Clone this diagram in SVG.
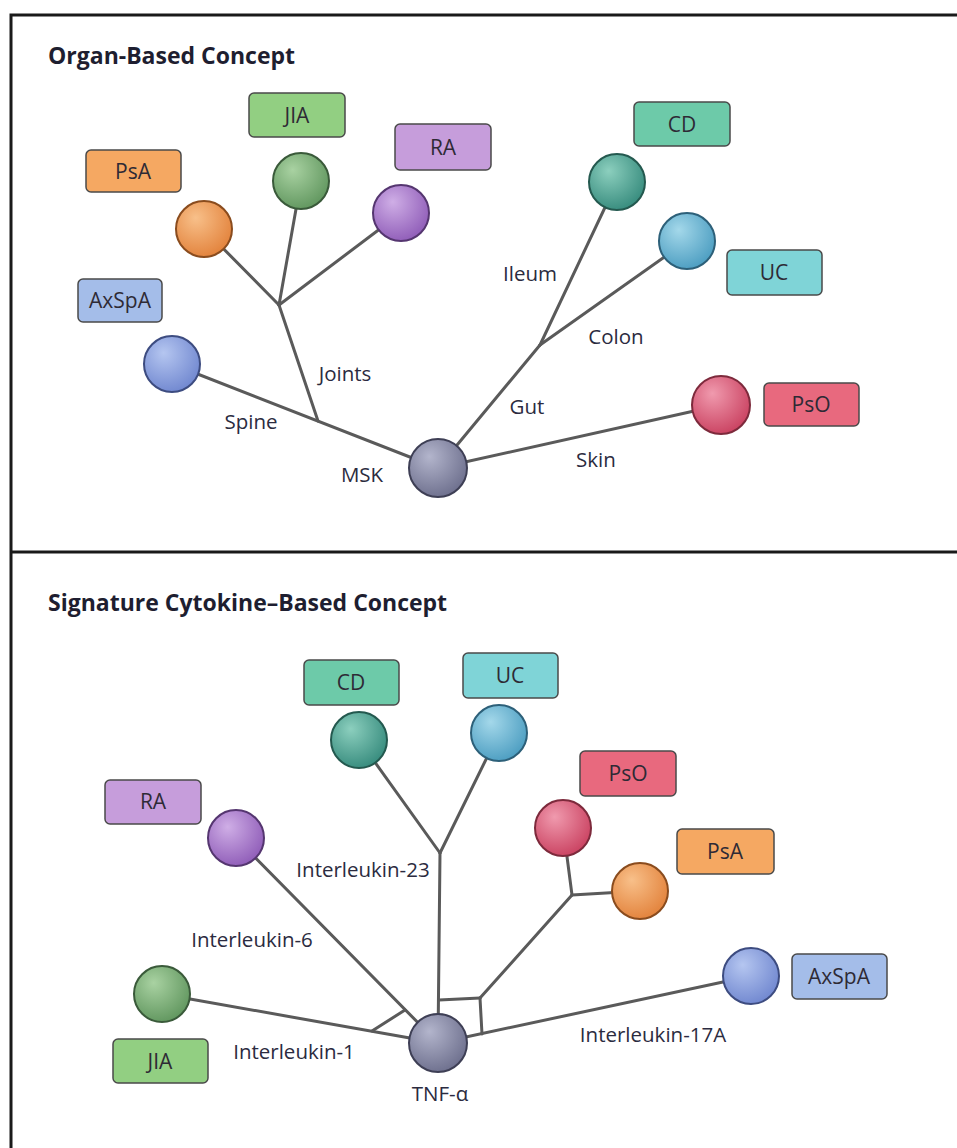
<svg xmlns="http://www.w3.org/2000/svg" width="957" height="1148" viewBox="0 0 957 1148">
<style>
.frame{stroke:#1a1a1a;stroke-width:3;fill:none}
.title{font-family:"Open Sans","Liberation Sans",sans-serif;font-weight:700;font-size:23px;fill:#1e1e30}
.lbl{font-family:"Open Sans","Liberation Sans",sans-serif;font-size:20.5px;fill:#2b2b40;text-anchor:middle}
.btxt{font-family:"Open Sans","Liberation Sans",sans-serif;font-size:21px;fill:#2e2a35;text-anchor:middle}
.box{stroke:#4a4a4a;stroke-width:1.5}
.edge{stroke:#5a5a5a;stroke-width:3;fill:none;stroke-linecap:round}
.ball{stroke-width:2}
</style>
<defs>
<radialGradient id="gBlue" cx="0.4" cy="0.35" r="0.7" fx="0.35" fy="0.3"><stop offset="0" stop-color="#b5c6f0"/><stop offset="1" stop-color="#6f86cf"/></radialGradient>
<radialGradient id="gOrange" cx="0.4" cy="0.35" r="0.7" fx="0.35" fy="0.3"><stop offset="0" stop-color="#f8c08a"/><stop offset="1" stop-color="#e2813a"/></radialGradient>
<radialGradient id="gGreen" cx="0.4" cy="0.35" r="0.7" fx="0.35" fy="0.3"><stop offset="0" stop-color="#a9d2a2"/><stop offset="1" stop-color="#5f955d"/></radialGradient>
<radialGradient id="gPurple" cx="0.4" cy="0.35" r="0.7" fx="0.35" fy="0.3"><stop offset="0" stop-color="#cfaee6"/><stop offset="1" stop-color="#8e5bb7"/></radialGradient>
<radialGradient id="gTeal" cx="0.4" cy="0.35" r="0.7" fx="0.35" fy="0.3"><stop offset="0" stop-color="#8ccfbe"/><stop offset="1" stop-color="#358a7c"/></radialGradient>
<radialGradient id="gCyan" cx="0.4" cy="0.35" r="0.7" fx="0.35" fy="0.3"><stop offset="0" stop-color="#a4d8ea"/><stop offset="1" stop-color="#4a9cc0"/></radialGradient>
<radialGradient id="gRed" cx="0.4" cy="0.35" r="0.7" fx="0.35" fy="0.3"><stop offset="0" stop-color="#f09aae"/><stop offset="1" stop-color="#c9405f"/></radialGradient>
<radialGradient id="gGrey" cx="0.4" cy="0.35" r="0.7" fx="0.35" fy="0.3"><stop offset="0" stop-color="#b3b5cc"/><stop offset="1" stop-color="#6c6e8c"/></radialGradient>
</defs>
<rect width="957" height="1148" fill="#ffffff"/>
<g id="frame">
<path class="frame" d="M11,1148 V15 H957"/>
<line class="frame" x1="11" y1="552" x2="957" y2="552"/>
</g>
<text class="title" x="48" y="64">Organ-Based Concept</text>
<text class="title" x="48" y="611">Signature Cytokine–Based Concept</text>

<g id="connectors">
<line class="edge" x1="438" y1="468" x2="172" y2="364"/>
<line class="edge" x1="318" y1="421" x2="279" y2="305"/>
<line class="edge" x1="279" y1="305" x2="204" y2="229"/>
<line class="edge" x1="279" y1="305" x2="301" y2="181"/>
<line class="edge" x1="279" y1="305" x2="401" y2="213"/>
<line class="edge" x1="438" y1="468" x2="540" y2="345"/>
<line class="edge" x1="540" y1="345" x2="617" y2="182"/>
<line class="edge" x1="540" y1="345" x2="687" y2="241"/>
<line class="edge" x1="438" y1="468" x2="721" y2="405"/>

<line class="edge" x1="438" y1="1043" x2="162" y2="994"/>
<line class="edge" x1="438" y1="1043" x2="236" y2="838"/>
<line class="edge" x1="372" y1="1031" x2="405" y2="1010"/>
<line class="edge" x1="440" y1="853" x2="359" y2="740"/>
<line class="edge" x1="440" y1="853" x2="499" y2="733"/>
<line class="edge" x1="440" y1="853" x2="438" y2="1043"/>
<line class="edge" x1="439" y1="1000" x2="480" y2="998"/>
<line class="edge" x1="480" y1="998" x2="482" y2="1034"/>
<line class="edge" x1="480" y1="998" x2="572" y2="895"/>
<line class="edge" x1="572" y1="895" x2="563" y2="826"/>
<line class="edge" x1="572" y1="895" x2="640" y2="891"/>
<line class="edge" x1="438" y1="1043" x2="751" y2="976"/>
</g>

<g id="edge-labels">
<text class="lbl" x="345" y="381">Joints</text>
<text class="lbl" x="251" y="429">Spine</text>
<text class="lbl" x="527" y="414">Gut</text>
<text class="lbl" x="530" y="281">Ileum</text>
<text class="lbl" x="616" y="344">Colon</text>
<text class="lbl" x="596" y="467">Skin</text>
<text class="lbl" x="362" y="482">MSK</text>
<text class="lbl" x="363" y="877">Interleukin-23</text>
<text class="lbl" x="252" y="947">Interleukin-6</text>
<text class="lbl" x="294" y="1059">Interleukin-1</text>
<text class="lbl" x="653" y="1042">Interleukin-17A</text>
<text class="lbl" x="440" y="1101">TNF-α</text>
</g>

<!-- Top panel nodes -->
<g id="t-msk"><circle class="ball" cx="438" cy="468" r="29" fill="url(#gGrey)" stroke="#3e3f55"/></g>
<g id="t-axspa"><circle class="ball" cx="172" cy="364" r="28" fill="url(#gBlue)" stroke="#3d4c80"/><rect class="box" x="78" y="279" width="84" height="43" rx="5" fill="#a4bde9"/><text class="btxt" x="120" y="308">AxSpA</text></g>
<g id="t-psa"><circle class="ball" cx="204" cy="229" r="28" fill="url(#gOrange)" stroke="#8a4c1e"/><rect class="box" x="86" y="150" width="95" height="42" rx="5" fill="#f5a862"/><text class="btxt" x="133" y="179">PsA</text></g>
<g id="t-jia"><circle class="ball" cx="301" cy="181" r="28" fill="url(#gGreen)" stroke="#3a5a3a"/><rect class="box" x="249" y="93" width="96" height="44" rx="5" fill="#92cf82"/><text class="btxt" x="297" y="123">JIA</text></g>
<g id="t-ra"><circle class="ball" cx="401" cy="213" r="28" fill="url(#gPurple)" stroke="#553670"/><rect class="box" x="395" y="124" width="96" height="46" rx="5" fill="#c69ddb"/><text class="btxt" x="443" y="155">RA</text></g>
<g id="t-cd"><circle class="ball" cx="617" cy="182" r="28" fill="url(#gTeal)" stroke="#24594f"/><rect class="box" x="634" y="102" width="96" height="44" rx="5" fill="#6dcaa9"/><text class="btxt" x="682" y="132">CD</text></g>
<g id="t-uc"><circle class="ball" cx="687" cy="241" r="28" fill="url(#gCyan)" stroke="#2d6079"/><rect class="box" x="727" y="250" width="95" height="45" rx="5" fill="#7fd4d7"/><text class="btxt" x="774" y="280">UC</text></g>
<g id="t-pso"><circle class="ball" cx="721" cy="405" r="29" fill="url(#gRed)" stroke="#7d2a3c"/><rect class="box" x="764" y="383" width="95" height="43" rx="5" fill="#e8697e"/><text class="btxt" x="811" y="412">PsO</text></g>

<!-- Bottom panel nodes -->
<g id="b-tnf"><circle class="ball" cx="438" cy="1043" r="29" fill="url(#gGrey)" stroke="#3e3f55"/></g>
<g id="b-cd"><circle class="ball" cx="359" cy="740" r="28" fill="url(#gTeal)" stroke="#24594f"/><rect class="box" x="304" y="660" width="95" height="45" rx="5" fill="#6dcaa9"/><text class="btxt" x="351" y="690">CD</text></g>
<g id="b-uc"><circle class="ball" cx="499" cy="733" r="28" fill="url(#gCyan)" stroke="#2d6079"/><rect class="box" x="463" y="653" width="95" height="45" rx="5" fill="#7fd4d7"/><text class="btxt" x="510" y="683">UC</text></g>
<g id="b-ra"><circle class="ball" cx="236" cy="838" r="28" fill="url(#gPurple)" stroke="#553670"/><rect class="box" x="105" y="780" width="96" height="44" rx="5" fill="#c69ddb"/><text class="btxt" x="153" y="809">RA</text></g>
<g id="b-pso"><circle class="ball" cx="563" cy="828" r="28" fill="url(#gRed)" stroke="#7d2a3c"/><rect class="box" x="580" y="751" width="96" height="45" rx="5" fill="#e8697e"/><text class="btxt" x="628" y="781">PsO</text></g>
<g id="b-psa"><circle class="ball" cx="640" cy="891" r="28" fill="url(#gOrange)" stroke="#8a4c1e"/><rect class="box" x="677" y="829" width="97" height="45" rx="5" fill="#f5a862"/><text class="btxt" x="725" y="859">PsA</text></g>
<g id="b-jia"><circle class="ball" cx="162" cy="994" r="28" fill="url(#gGreen)" stroke="#3a5a3a"/><rect class="box" x="113" y="1039" width="95" height="44" rx="5" fill="#92cf82"/><text class="btxt" x="160" y="1069">JIA</text></g>
<g id="b-axspa"><circle class="ball" cx="751" cy="976" r="28" fill="url(#gBlue)" stroke="#3d4c80"/><rect class="box" x="792" y="954" width="95" height="45" rx="5" fill="#a4bde9"/><text class="btxt" x="839" y="984">AxSpA</text></g>
</svg>
